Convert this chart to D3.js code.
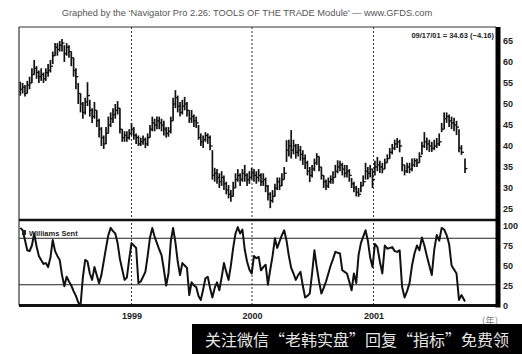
<!DOCTYPE html>
<html>
<head>
<meta charset="utf-8">
<script src="https://cdn.jsdelivr.net/npm/d3@7"></script>
<style>
  body { margin: 0; background: #fff; }
  svg { display: block; font-family: "Liberation Sans", Arial, sans-serif; }
  .axis text { font-size: 9px; font-weight: bold; fill: #222; }
</style>
</head>
<body>
<svg id="chart" width="522" height="354"></svg>
<script>
// Weekly bars, first week ending 1998-01-30, last entry is the 09/17/01 bar
const firstWeek = new Date(1998, 0, 30);
const lastDate = new Date(2001, 8, 17);

const weekHigh = [
  55.3, 55, 54.5, 55.5, 56.5, 58.5, 60.5, 59, 58, 58.5,
  57.5, 58.5, 59.5, 60.5, 62.5, 64.5, 64.5, 65, 65.5, 64,
  64.5, 64, 62.5, 61, 58.5, 55, 52.5, 50.5, 51.5, 55.2,
  51, 49, 50.5, 48.5, 46.5, 44.5, 42.5, 44.5, 47, 48,
  49, 50, 50.7, 49, 44, 43.5, 43.5, 44, 45.5, 44.5,
  43, 42.5, 42, 42.5, 42, 43, 45, 47, 46.5, 47,
  47, 46.5, 46, 44.5, 44.5, 47, 51.5, 53.3, 52, 50.5,
  51, 51.7, 50.5, 48.5, 48.6, 47.5, 47, 45, 43, 42.5,
  43.3, 43, 42.5, 39, 34.8, 34.5, 33.5, 34, 33, 31.5,
  30.7, 29.5, 31.5, 33.5, 34.5, 33.5, 34.5, 35.5, 33.5, 34,
  34.8, 34.5, 34, 34.5, 33.5, 33.5, 32.5, 30.7, 29, 29.5,
  31, 32.5, 32.5, 33.5, 35, 41.4, 41.5, 43.8, 41.5, 40.5,
  40.5, 40, 39, 38, 36.5, 35, 35.5, 37, 38.3, 37.5,
  35, 33, 32, 32.5, 33, 34, 35.5, 36.6, 36.5, 36,
  35.5, 35.5, 34.5, 32.4, 31.5, 30.5, 30, 31.5, 33, 36,
  35, 35.5, 34.5, 36.5, 37.4, 36.5, 36, 37, 38, 39.5,
  40.5, 41.5, 41.9, 41.5, 37.4, 35.5, 36, 36, 37, 37.1,
  37, 38.5, 41, 43.3, 42, 41.5, 41, 41.5, 41.9, 43,
  45.5, 48, 48, 47.5, 47, 46.7, 46, 44, 40.2,
  37
];

const weekLow = [
  52, 52.5, 51.8, 52.5, 53.5, 55, 57, 56, 55, 55.5,
  55, 55.5, 56.5, 57.5, 59.5, 61.5, 61.5, 62.5, 62.5, 60,
  61.5, 61, 59, 56.5, 53.5, 50, 48, 46.5, 47.5, 49.5,
  47, 45.5, 46.5, 44.5, 42, 40, 39.3, 40.5, 43, 44.5,
  45.5, 46.5, 47.5, 43, 41, 41, 41, 41.5, 42.5, 41.5,
  40.5, 40, 40, 40.3, 39.5, 40, 42, 43.5, 43.5, 44,
  44, 43.5, 42.5, 42, 42.2, 43, 46, 49, 48, 47,
  47.5, 48.5, 47, 45.5, 45.5, 44.5, 44.3, 41.5, 40, 39.5,
  41, 40.5, 39, 32, 31.5, 31, 30, 30.5, 29.5, 28.5,
  27.5, 26.7, 28, 30, 31.5, 30.5, 31.5, 31.5, 30.5, 31,
  32, 31.5, 31, 31.5, 30.5, 30.5, 29, 27, 25.2, 26.5,
  28, 29.5, 29.5, 30.5, 32, 36.2, 37.5, 37, 38, 37,
  37.5, 36.5, 35.5, 34.5, 33, 31.4, 32.5, 34, 35.5, 34,
  32, 30, 29.5, 30, 31, 31, 32.5, 33.5, 34, 33,
  32.5, 32.5, 31.5, 30, 29, 28, 27.9, 29, 30.5, 32,
  32, 32.5, 30, 33, 34, 33.6, 33.5, 34.5, 36, 37,
  38, 39, 39.5, 38.5, 34, 33, 33.6, 33.5, 34, 35,
  35, 36, 37.9, 39.5, 39, 38.6, 38.6, 39, 39.5, 40,
  43.3, 44, 45.5, 44.5, 44, 43.5, 42.6, 38.5, 37.9,
  33.6
];

const weekClose = [
  53.5, 54, 52.5, 54.5, 55, 57, 58.5, 57.5, 56.5, 57,
  56, 57.5, 58, 59, 61.5, 63.5, 63, 64, 64.5, 62,
  63.5, 62.5, 61, 58, 56.5, 52.5, 50, 48, 50.5, 52,
  48.5, 47, 48.5, 46, 44, 42, 40.5, 43, 45, 46.5,
  47.5, 48.5, 49, 44, 42, 42.5, 42, 43, 44, 42.5,
  42, 40.5, 41, 41.5, 40.5, 42, 44, 45.5, 45, 46,
  45.5, 45, 44, 43, 43.5, 46, 50, 51.5, 49.5, 48,
  49.5, 50, 48.5, 46.5, 47, 46, 45.5, 42, 41, 41.5,
  42.5, 42, 40, 33, 33.5, 32.5, 31.5, 32.5, 31, 29.5,
  28.5, 28, 30, 32, 33, 32, 33.5, 33, 32, 32.5,
  33.5, 33, 32.5, 33, 31.5, 32, 30.5, 28.5, 27, 28,
  30, 31.5, 30.5, 32, 33.5, 39, 40, 39, 40, 38.5,
  39, 38, 37, 36, 34, 33, 34.5, 36, 37.5, 35,
  33, 31.5, 30.5, 31.5, 32, 32.5, 34, 35, 35.5, 34.5,
  33.5, 34, 33, 31, 30, 29, 28.5, 30.5, 31.5, 34,
  33.5, 34.5, 32, 35, 35.5, 35, 34.5, 36, 37, 38.5,
  39.5, 40.5, 41, 40, 35.5, 34, 35, 34.5, 35.5, 36.5,
  36, 37.5, 40, 41, 40.5, 40, 39.5, 40, 40.5, 41,
  44, 46.5, 47, 46, 45.5, 45, 44.5, 39.5, 38.5,
  34.63
];

// Williams oscillator, same weeks
const williams = [
  97, 94, 82, 69, 68, 75, 90, 74, 62, 57,
  52, 53, 48, 60, 82, 68, 62, 57, 38, 24,
  36, 30, 25, 18, 12, 4, 0, 35, 57, 55,
  40, 32, 48, 38, 28, 38, 55, 72, 88, 97,
  93, 90, 78, 58, 45, 32, 35, 58, 78, 75,
  72, 28, 30, 36, 42, 62, 85, 97, 86, 78,
  70, 63, 45, 25, 40, 80, 97, 79, 55, 38,
  53, 50, 47, 13, 29, 25, 23, 12, 7, 20,
  34, 36, 22, 10, 22, 29, 19, 35, 53, 42,
  32, 50, 72, 90, 98, 90, 95, 70, 55, 45,
  40, 62, 59, 61, 44, 48, 51, 26, 45, 62,
  84, 72, 80, 88, 94, 81, 62, 47, 40, 32,
  38, 42, 25, 10, 12, 15, 40, 69, 48, 30,
  15, 22, 30, 40, 50, 58, 67, 66, 65, 44,
  42, 40, 30, 19, 40, 28, 63, 78, 86, 94,
  81, 60, 48, 77, 73, 55, 40, 75, 71, 72,
  73, 68, 67, 69, 23, 10, 18, 28, 50, 65,
  75, 69, 85, 75, 62, 50, 38, 70, 88, 81,
  97, 95, 88, 77, 50, 45, 40, 7, 13,
  5
];

const priceTicks = [25, 30, 35, 40, 45, 50, 55, 60, 65];
const oscTicks = [0, 25, 50, 75, 100];
const oscLevels = [84, 26];
const yearTicks = [new Date(1999, 0, 1), new Date(2000, 0, 1), new Date(2001, 0, 1)];

const titleText = "Graphed by the \u2018Navigator Pro 2.26: TOOLS OF THE TRADE Module\u2019 \u2014 www.GFDS.com";
const lastText = "09/17/01 = 34.63 (\u22124.16)";
const oscName = "Williams Sent";
const unitText = "\uFF08\u5E74\uFF09";
const bannerText = "关注微信“老韩实盘”回复“指标”免费领";

// Build the bar records
const bars = weekClose.map((c, i) => ({
  date: i < weekClose.length - 1 ? d3.timeDay.offset(firstWeek, 7 * i) : lastDate,
  high: weekHigh[i],
  low: weekLow[i],
  close: c,
  osc: williams[i]
}));

// Frame edges
const frameLeft = 19, frameRight = 496, frameTop = 27, frameSplit = 220, frameBottom = 305.5;

const svg = d3.select("#chart");

// Scales
const xScale = d3.scaleTime()
  .domain([new Date(1998, 0, 26), yearTicks[0], yearTicks[1], yearTicks[2], lastDate])
  .range([frameLeft, 131.5, 252, 373.5, 465]);

const yPrice = d3.scaleLinear().domain([25, 65]).range([209, 41]);
const yOsc = d3.scaleLinear().domain([0, 100]).range([305.5, 225.5]);

// Title
svg.append("text")
  .attr("x", 247).attr("y", 16)
  .attr("text-anchor", "middle")
  .attr("font-size", 9.3)
  .attr("fill", "#555")
  .text(titleText);

// Year dashed lines
svg.append("g")
  .selectAll("line")
  .data(yearTicks)
  .join("line")
  .attr("x1", d => xScale(d)).attr("x2", d => xScale(d))
  .attr("y1", frameTop).attr("y2", frameBottom)
  .attr("stroke", "#333")
  .attr("stroke-width", 1)
  .attr("stroke-dasharray", "2,2");

// Oscillator reference lines
svg.append("g")
  .selectAll("line")
  .data(oscLevels)
  .join("line")
  .attr("x1", frameLeft).attr("x2", frameRight)
  .attr("y1", d => yOsc(d)).attr("y2", d => yOsc(d))
  .attr("stroke", "#222")
  .attr("stroke-width", 1.1);

// Price bars (high-low + close tick)
const barG = svg.append("g").attr("stroke", "#111");
barG.selectAll("line.hl")
  .data(bars)
  .join("line")
  .attr("class", "hl")
  .attr("x1", d => xScale(d.date)).attr("x2", d => xScale(d.date))
  .attr("y1", d => yPrice(d.high)).attr("y2", d => yPrice(d.low))
  .attr("stroke-width", 1.7);
barG.selectAll("line.cl")
  .data(bars)
  .join("line")
  .attr("class", "cl")
  .attr("x1", d => xScale(d.date)).attr("x2", d => xScale(d.date) + 2.5)
  .attr("y1", d => yPrice(d.close)).attr("y2", d => yPrice(d.close))
  .attr("stroke-width", 1.3);

// Williams line
svg.append("path")
  .datum(bars)
  .attr("fill", "none")
  .attr("stroke", "#111")
  .attr("stroke-width", 2)
  .attr("stroke-linejoin", "round")
  .attr("d", d3.line()
    .x(d => xScale(d.date))
    .y(d => yOsc(d.osc)));

// Frame lines
svg.append("line").attr("x1", frameLeft).attr("x2", frameRight).attr("y1", frameTop).attr("y2", frameTop)
  .attr("stroke", "#333").attr("stroke-width", 1);
svg.append("line").attr("x1", frameLeft).attr("x2", frameLeft).attr("y1", frameTop).attr("y2", frameBottom)
  .attr("stroke", "#333").attr("stroke-width", 1.2);
svg.append("line").attr("x1", frameLeft).attr("x2", frameRight).attr("y1", frameSplit).attr("y2", frameSplit)
  .attr("stroke", "#111").attr("stroke-width", 2.6);
svg.append("line").attr("x1", frameLeft).attr("x2", frameRight).attr("y1", frameBottom).attr("y2", frameBottom)
  .attr("stroke", "#111").attr("stroke-width", 3);
svg.append("line").attr("x1", frameRight + 2).attr("x2", frameRight + 2).attr("y1", frameTop).attr("y2", frameBottom + 2)
  .attr("stroke", "#000").attr("stroke-width", 5);

// Right axes
svg.append("g")
  .attr("class", "axis")
  .attr("transform", `translate(${frameRight + 5},0)`)
  .call(d3.axisRight(yPrice).tickValues(priceTicks).tickSize(0).tickPadding(2))
  .call(g => g.select(".domain").remove());

svg.append("g")
  .attr("class", "axis")
  .attr("transform", `translate(${frameRight + 5},0)`)
  .call(d3.axisRight(yOsc).tickValues(oscTicks).tickSize(0).tickPadding(2))
  .call(g => g.select(".domain").remove());

// Year labels
svg.append("g")
  .attr("class", "axis")
  .attr("transform", `translate(0,${frameBottom + 2})`)
  .call(d3.axisBottom(xScale).tickValues(yearTicks).tickFormat(d3.timeFormat("%Y")).tickSize(0).tickPadding(5))
  .call(g => g.select(".domain").remove());

// Last value note
svg.append("text")
  .attr("x", 494).attr("y", 38)
  .attr("text-anchor", "end")
  .attr("font-size", 7.5)
  .attr("font-weight", "bold")
  .attr("fill", "#222")
  .text(lastText);

// Oscillator name
svg.append("rect").attr("x", 22).attr("y", 230).attr("width", 4).attr("height", 5).attr("fill", "#222");
svg.append("text")
  .attr("x", 29).attr("y", 236)
  .attr("font-size", 7.5)
  .attr("font-weight", "bold")
  .attr("fill", "#222")
  .text(oscName);

// Unit label
svg.append("text")
  .attr("x", 490).attr("y", 324)
  .attr("text-anchor", "middle")
  .attr("font-size", 9)
  .attr("fill", "#777")
  .attr("font-family", "Noto Sans CJK SC")
  .text(unitText);

// Bottom banner
svg.append("rect").attr("x", 192).attr("y", 324).attr("width", 330).attr("height", 30).attr("fill", "#000");
svg.append("text")
  .attr("x", 357).attr("y", 346)
  .attr("text-anchor", "middle")
  .attr("font-size", 16)
  .attr("font-family", "Noto Sans CJK SC")
  .attr("fill", "#e6e6e6")
  .text(bannerText);
</script>
</body>
</html>
